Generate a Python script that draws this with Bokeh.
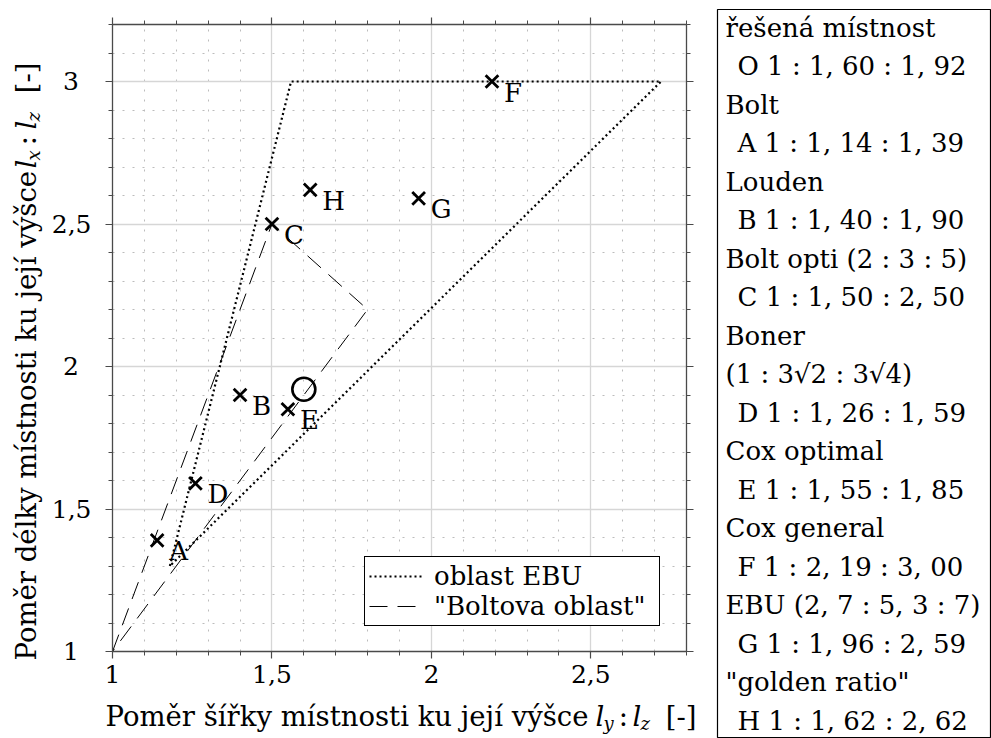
import numpy as np
from bokeh.plotting import figure
from bokeh.models import Range1d, FixedTicker, LinearAxis, Legend, LegendItem
from bokeh.layouts import row, column
from bokeh.embed import file_html
from bokeh.resources import INLINE
from bokeh.core.properties import value

FONT = "DejaVu Serif"
FS = "26px"
TFS = 27.5          # axis title font size (px)
SFS = 18            # subscript font size (px)
SHIFT = 0.42        # empirical baseline correction (fraction of font size)

# ---------------- data ----------------
point_keys = ["A", "B", "C", "D", "E", "F", "G", "H"]
point_ly = [1.14, 1.40, 1.50, 1.26, 1.55, 2.19, 1.96, 1.62]
point_lx = [1.39, 1.90, 2.50, 1.59, 1.85, 3.00, 2.59, 2.62]
room_key = "O"
room_ly = [1.60]
room_lx = [1.92]
ebu_ly = [1.18, 1.56, 2.72, 1.18]
ebu_lx = [1.30, 3.00, 3.00, 1.30]
bolt_ly = [1.00, 1.50, 1.80, 1.00]
bolt_lx = [1.00, 2.50, 2.20, 1.00]
x_ticks = [1, 1.5, 2, 2.5]
x_tick_labels = ["1", "1,5", "2", "2,5"]
y_ticks = [1, 1.5, 2, 2.5, 3]
y_tick_labels = ["1", "1,5", "2", "2,5", "3"]
source_titles = ["řešená místnost", "Bolt", "Louden", "Bolt opti (2 : 3 : 5)",
                 "Boner\n(1 : 3√2 : 3√4)", "Cox optimal", "Cox general",
                 "EBU (2, 7 : 5, 3 : 7)", "\"golden ratio\""]
legend_labels = ["oblast EBU", "\"Boltova oblast\""]
x_title_parts = ["Poměr šířky místnosti ku její výšce", "l", "y", ":", "l", "z", "[-]"]
y_title_parts = ["Poměr délky místnosti ku její výšce", "l", "x", ":", "l", "z", "[-]"]

H = 738
W_YT = 46           # y-title strip
W_P = 670           # main plot
W_K = 991 - W_YT - W_P  # key box
H_XT = 38           # x-title strip
H_P = H - H_XT
# main frame in page coordinates
L, T, R, B = 112, 24, 686, 651
AX = "#4a4a4a"


def no_align(fig):
    try:
        fig.frame_align = False
    except Exception:
        pass


def bare(fig):
    fig.grid.visible = False
    fig.outline_line_color = None
    fig.background_fill_color = "white"
    fig.border_fill_color = "white"
    no_align(fig)


# ---------------- main plot ----------------
p = figure(width=W_P, height=H_P, x_range=Range1d(1, 2.8), y_range=Range1d(1, 3.2),
           output_backend="svg", toolbar_location=None,
           min_border_left=L - W_YT, min_border_right=W_YT + W_P - R,
           min_border_top=T, min_border_bottom=H_P - B)
p.outline_line_color = None
p.background_fill_color = "white"
p.border_fill_color = "white"
no_align(p)

x_minor = [round(v, 2) for v in np.arange(1.0, 2.801, 0.1)]
y_minor = [round(v, 2) for v in np.arange(1.0, 3.201, 0.1)]


def style_axis(ax, ticks, minors, labels, show, standoff, pad=False):
    ax.ticker = FixedTicker(ticks=ticks, minor_ticks=minors)
    ov = {}
    for t, lab in zip(ticks, labels):
        if not show:
            ov[t] = ""
        elif pad and "," not in lab:
            ov[t] = lab + "\u2002"      # visually centre short labels like the original
        else:
            ov[t] = lab
    ax.major_label_overrides = ov
    ax.axis_line_color = AX
    ax.axis_line_width = 1.3
    ax.major_tick_line_color = AX
    ax.major_tick_line_width = 1.2
    ax.minor_tick_line_color = AX
    ax.minor_tick_line_width = 1.0
    ax.major_tick_out = 7
    ax.major_tick_in = 0
    ax.minor_tick_out = 4
    ax.minor_tick_in = 0
    ax.major_label_text_font = FONT
    ax.major_label_text_font_size = "25px" if show else "0px"
    ax.major_label_text_color = "black"
    ax.major_label_standoff = standoff


style_axis(p.xaxis[0], x_ticks, x_minor, x_tick_labels, True, 6)
style_axis(p.yaxis[0], y_ticks, y_minor, y_tick_labels, True, 14, pad=True)
top_ax = LinearAxis()
style_axis(top_ax, x_ticks, x_minor, x_tick_labels, False, 0)
p.add_layout(top_ax, "above")
right_ax = LinearAxis()
style_axis(right_ax, y_ticks, y_minor, y_tick_labels, False, 0)
p.add_layout(right_ax, "right")

p.xgrid.ticker = FixedTicker(ticks=x_ticks, minor_ticks=x_minor)
p.ygrid.ticker = FixedTicker(ticks=y_ticks, minor_ticks=y_minor)
for g in (p.xgrid[0], p.ygrid[0]):
    g.grid_line_color = "#d6d6d6"
    g.grid_line_width = 1.3
    g.minor_grid_line_color = "#bcbcbc"
    g.minor_grid_line_width = 1.0
    g.minor_grid_line_dash = "2 8"

r_ebu = p.line(ebu_ly, ebu_lx, line_color="black", line_width=2.2, line_dash="2 3")
r_bolt = p.line(bolt_ly, bolt_lx, line_color="black", line_width=1.0, line_dash="18 10")

p.scatter(point_ly, point_lx, marker="x", size=18, line_width=2.8, line_color="black")
p.scatter(room_ly, room_lx, marker="circle", size=23, fill_color=None,
          line_color="black", line_width=2.6)
p.text(point_ly, point_lx, text=point_keys, text_font=value(FONT), text_font_size=FS,
       x_offset=12, y_offset=11, text_baseline="alphabetic", text_align="left",
       text_color="black")

legend = Legend(items=[LegendItem(label=legend_labels[0], renderers=[r_ebu]),
                       LegendItem(label=legend_labels[1], renderers=[r_bolt])],
                location=(364 - L, B - 626))
legend.label_text_font = FONT
legend.label_text_font_size = FS
legend.label_text_color = "black"
legend.border_line_color = "black"
legend.border_line_width = 1
legend.border_line_alpha = 1.0
legend.background_fill_alpha = 1.0
legend.padding = 4
legend.spacing = 0
legend.margin = 0
legend.glyph_width = 55
legend.glyph_height = 28
legend.label_height = 28
legend.label_width = 221
legend.label_standoff = 10
p.add_layout(legend)

# ---------------- x-axis title strip ----------------
xt = figure(width=W_P, height=H_XT, x_range=Range1d(W_YT, W_YT + W_P), y_range=Range1d(0, H_XT),
            output_backend="svg", toolbar_location=None, min_border=0,
            x_axis_location=None, y_axis_location=None)
bare(xt)


def put(fig, txt, x, y, size, italic=False, align="left", angle=0.0):
    fig.text([x], [y], text=[txt], text_font=value(FONT), text_font_size=f"{size}px",
             text_font_style="italic" if italic else "normal", text_align=align,
             text_baseline="alphabetic", text_color="black", angle=angle)


xb = 727          # baseline (page y)
xs = 731          # subscript baseline
ym = H - xb + SHIFT * TFS
ys = H - xs + SHIFT * SFS
put(xt, x_title_parts[0], 105, ym, TFS)
put(xt, x_title_parts[1], 595, ym, TFS, italic=True)
put(xt, x_title_parts[2], 603, ys, SFS, italic=True)
put(xt, x_title_parts[3], 623, ym, TFS, align="center")
put(xt, x_title_parts[4], 632, ym, TFS, italic=True)
put(xt, x_title_parts[5], 640, ys, SFS, italic=True)
put(xt, x_title_parts[6], 696, ym, TFS, align="right")

# ---------------- y-axis title strip ----------------
yt = figure(width=W_YT, height=H, x_range=Range1d(0, W_YT), y_range=Range1d(0, H),
            output_backend="svg", toolbar_location=None, min_border=0,
            x_axis_location=None, y_axis_location=None)
bare(yt)
A90 = np.pi / 2
yb = 37           # baseline (page x)
ysb = 41          # subscript baseline
xm = yb - SHIFT * TFS
xsb = ysb - SHIFT * SFS
put(yt, y_title_parts[0], xm, H - 660, TFS, angle=A90)
put(yt, y_title_parts[1], xm, H - 168, TFS, italic=True, angle=A90)
put(yt, y_title_parts[2], xsb, H - 160, SFS, italic=True, angle=A90)
put(yt, y_title_parts[3], xm, H - 140, TFS, align="center", angle=A90)
put(yt, y_title_parts[4], xm, H - 129, TFS, italic=True, angle=A90)
put(yt, y_title_parts[5], xsb, H - 121, SFS, italic=True, angle=A90)
put(yt, y_title_parts[6], xm, H - 62, TFS, align="right", angle=A90)

# ---------------- key box ----------------
x0k = W_YT + W_P
kb = figure(width=W_K, height=H, x_range=Range1d(x0k + 1, x0k + W_K - 1), y_range=Range1d(1, H - 9),
            output_backend="svg", toolbar_location=None,
            min_border_left=1, min_border_right=1, min_border_top=9, min_border_bottom=1,
            x_axis_location=None, y_axis_location=None)
bare(kb)
kb.outline_line_color = "black"
kb.outline_line_width = 1.2

keys = [room_key] + point_keys
lys = room_ly + point_ly
lxs = room_lx + point_lx


def fmt(v):
    return f"{v:.2f}".replace(".", ", ")


lines, indents = [], []
for title, k, a, b in zip(source_titles, keys, lys, lxs):
    for part in title.split("\n"):
        lines.append(part)
        indents.append(False)
    lines.append(f"{k} 1 : {fmt(a)} : {fmt(b)}")
    indents.append(True)

step = 38.5
bx = [737 if ind else 725 for ind in indents]
by = [H - (38 + i * step) + SHIFT * 26 for i in range(len(lines))]
kb.text(bx, by, text=lines, text_font=value(FONT), text_font_size=FS,
        text_baseline="alphabetic", text_align="left", text_color="black")

layout = row(yt, column(p, xt), kb)
open("out.html", "w").write(file_html(layout, INLINE))
